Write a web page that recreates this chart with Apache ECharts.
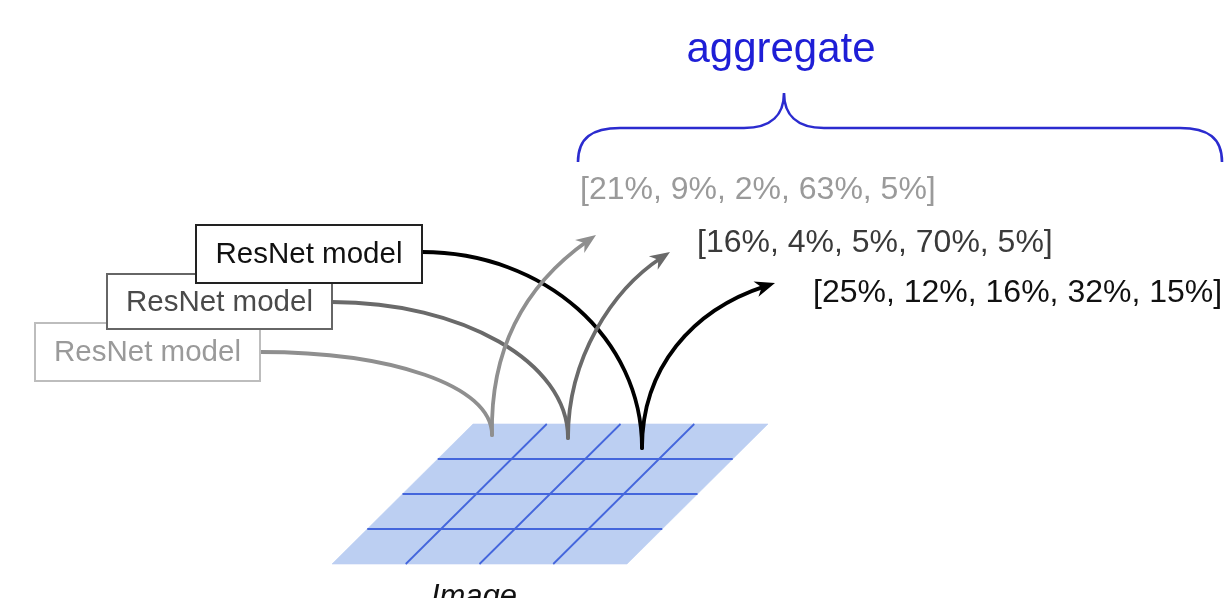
<!DOCTYPE html>
<html><head><meta charset="utf-8">
<script src="https://cdn.jsdelivr.net/npm/echarts@6/dist/echarts.min.js"></script>
<style>html,body{margin:0;padding:0;background:#fff}#c{width:1224px;height:598px}</style>
</head><body><div id="c"></div>
<script>
// ---- data (diagram units = a hidden 0..1224 x 0..598 value space) ----
const modelNames = ['ResNet model', 'ResNet model', 'ResNet model'];
const modelBoxes = [[35, 323, 260, 381], [107, 274, 332, 329], [196, 225, 422, 283]];
const outputLabels = ['[21%, 9%, 2%, 63%, 5%]', '[16%, 4%, 5%, 70%, 5%]', '[25%, 12%, 16%, 32%, 15%]'];
const outputAnchors = [[580, 190], [697, 243], [813, 293]];
// curves from each model box down to the image patch: [start, cp1, cp2, end]
const inCurves = [
  [[260, 352], [390, 352], [492, 385], [492, 435]],
  [[332, 302], [462, 302], [568, 362], [568, 438]],
  [[422, 252], [544, 252], [642, 338], [642, 448]]
];
// arrows from the patch up to each prediction: [start, cp1, cp2, tip]
const outCurves = [
  [[492, 435], [490, 340], [532, 280], [596, 235]],
  [[568, 438], [568, 358], [612, 290], [670, 252]],
  [[642, 448], [642, 368], [692, 310], [775, 283]]
];
const imageCorners = [[473, 424], [768, 424], [332, 564]]; // top-left, top-right, bottom-left
const imageRows = 4, imageCols = 4;
const imageLabel = 'Image';
const imageLabelPos = [474, 597];
const braceTitle = 'aggregate';
const braceTitlePos = [781, 50];
const braceEnds = [[578, 162], [1222, 162]];
const braceLevel = 128, bracePeak = [784, 93];

// ---- styles ----
const modelText = ['#9a9a9a', '#4a4a4a', '#111111'];
const modelStroke = ['#bdbdbd', '#666666', '#222222'];
const curveColor = ['#8f8f8f', '#6a6a6a', '#000000'];
const outputColor = ['#9a9a9a', '#3a3a3a', '#111111'];
const FONT = 'Liberation Sans, Arial, Helvetica, sans-serif';

const chart = echarts.init(document.getElementById('c'));

function gridPt(api, u, v) {
  const [tl, tr, bl] = imageCorners;
  return api.coord([tl[0] + u * (tr[0] - tl[0]) + v * (bl[0] - tl[0]),
                    tl[1] + u * (tr[1] - tl[1]) + v * (bl[1] - tl[1])]);
}

const cells = [];
for (let r = 0; r < imageRows; r++) for (let c = 0; c < imageCols; c++) cells.push([c, r]);

function bez(api, pts, color, w) {
  const p = pts.map(q => api.coord(q));
  return {type: 'bezierCurve', shape: {x1: p[0][0], y1: p[0][1], cpx1: p[1][0], cpy1: p[1][1], cpx2: p[2][0], cpy2: p[2][1], x2: p[3][0], y2: p[3][1]},
    style: {stroke: color, lineWidth: w, fill: null, lineCap: 'round'}};
}

const option = {
  animation: false,
  grid: {left: 0, right: 0, top: 0, bottom: 0},
  xAxis: {type: 'value', min: 0, max: 1224, show: false},
  yAxis: {type: 'value', min: 0, max: 598, inverse: true, show: false},
  series: [
    { // image patch cells
      type: 'custom', coordinateSystem: 'cartesian2d', z: 1,
      data: cells,
      renderItem: function (params, api) {
        const c = api.value(0), r = api.value(1);
        const du = 1 / imageCols, dv = 1 / imageRows;
        const a = gridPt(api, c * du, r * dv), b = gridPt(api, (c + 1) * du, r * dv),
              d = gridPt(api, (c + 1) * du, (r + 1) * dv), e = gridPt(api, c * du, (r + 1) * dv);
        return {type: 'polygon', shape: {points: [a, b, d, e]}, style: {fill: '#bccff2', stroke: '#bccff2', lineWidth: 0.6}};
      }
    },
    { // internal grid lines
      type: 'custom', coordinateSystem: 'cartesian2d', z: 2,
      data: [[1, 0], [2, 0], [3, 0], [1, 1], [2, 1], [3, 1]],
      renderItem: function (params, api) {
        const k = api.value(0), horiz = api.value(1) === 1;
        let p, q;
        if (horiz) { p = gridPt(api, 0, k / imageRows); q = gridPt(api, 1, k / imageRows); }
        else { p = gridPt(api, k / imageCols, 0); q = gridPt(api, k / imageCols, 1); }
        return {type: 'line', shape: {x1: p[0], y1: p[1], x2: q[0], y2: q[1]}, style: {stroke: '#4466dc', lineWidth: 1.8}};
      }
    },
    { // curves from models to patch
      type: 'custom', coordinateSystem: 'cartesian2d', z: 3,
      data: inCurves.map((c, i) => [i]),
      renderItem: function (params, api) {
        const i = params.dataIndex;
        return bez(api, inCurves[i], curveColor[i], 3.8);
      }
    },
    { // arrows up to predictions
      type: 'custom', coordinateSystem: 'cartesian2d', z: 4,
      data: outCurves.map((c, i) => [i]),
      renderItem: function (params, api) {
        const i = params.dataIndex;
        const pts = outCurves[i];
        const tip = api.coord(pts[3]), cp = api.coord(pts[2]);
        let dx = tip[0] - cp[0], dy = tip[1] - cp[1];
        const L = Math.hypot(dx, dy); dx /= L; dy /= L;
        const len = 20, half = 8;
        const base = [tip[0] - dx * len, tip[1] - dy * len];
        const nx = -dy, ny = dx;
        const head = {type: 'polygon', shape: {points: [tip, [base[0] + nx * half, base[1] + ny * half], [tip[0] - dx * len * 0.7, tip[1] - dy * len * 0.7], [base[0] - nx * half, base[1] - ny * half]]},
          style: {fill: curveColor[i]}};
        const line = bez(api, [pts[0], pts[1], pts[2], [pts[3][0] - dx * 10, pts[3][1] + dy * -10]], curveColor[i], 3.8);
        return {type: 'group', children: [line, head]};
      }
    },
    { // model boxes
      type: 'custom', coordinateSystem: 'cartesian2d', z: 5,
      data: modelBoxes.map((b, i) => [i]),
      renderItem: function (params, api) {
        const i = params.dataIndex, b = modelBoxes[i];
        const p0 = api.coord([b[0], b[1]]), p1 = api.coord([b[2], b[3]]);
        return {type: 'group', children: [
          {type: 'rect', shape: {x: p0[0], y: p0[1], width: p1[0] - p0[0], height: p1[1] - p0[1]},
            style: {fill: '#ffffff', stroke: modelStroke[i], lineWidth: 2}},
          {type: 'text', style: {text: modelNames[i], x: (p0[0] + p1[0]) / 2, y: (p0[1] + p1[1]) / 2 + 1,
            align: 'center', verticalAlign: 'middle', fontSize: 29.5, fontFamily: FONT, fill: modelText[i]}}
        ]};
      }
    },
    { // prediction labels
      type: 'custom', coordinateSystem: 'cartesian2d', z: 6,
      data: outputLabels.map((t, i) => [i]),
      renderItem: function (params, api) {
        const i = params.dataIndex, p = api.coord(outputAnchors[i]);
        return {type: 'text', style: {text: outputLabels[i], x: p[0], y: p[1], align: 'left', verticalAlign: 'middle',
          fontSize: 32, fontFamily: FONT, fill: outputColor[i]}};
      }
    },
    { // brace + title + image label
      type: 'custom', coordinateSystem: 'cartesian2d', z: 6,
      data: [[0]],
      renderItem: function (params, api) {
        const c = q => api.coord(q).map(v => v.toFixed(1)).join(' ');
        const [L, R] = braceEnds, y = braceLevel, [px, py] = bracePeak;
        const d = 'M' + c(L) +
          ' C' + c([L[0], y + 10]) + ' ' + c([L[0] + 14, y]) + ' ' + c([L[0] + 42, y]) +
          ' L' + c([px - 40, y]) +
          ' C' + c([px - 12, y]) + ' ' + c([px, y - 14]) + ' ' + c([px, py]) +
          ' C' + c([px, y - 14]) + ' ' + c([px + 12, y]) + ' ' + c([px + 40, y]) +
          ' L' + c([R[0] - 42, y]) +
          ' C' + c([R[0] - 14, y]) + ' ' + c([R[0], y + 10]) + ' ' + c(R);
        const t = api.coord(braceTitlePos);
        const im = api.coord(imageLabelPos);
        return {type: 'group', children: [
          {type: 'path', shape: {pathData: d}, style: {stroke: '#2b2bcf', lineWidth: 2.6, fill: null}},
          {type: 'text', style: {text: braceTitle, x: t[0], y: t[1], align: 'center', verticalAlign: 'middle',
            fontSize: 42, fontFamily: FONT, fill: '#1e1ed6'}},
          {type: 'text', style: {text: imageLabel, x: im[0], y: im[1], align: 'center', verticalAlign: 'middle',
            fontSize: 31, fontStyle: 'italic', fontFamily: FONT, fill: '#111'}}
        ]};
      }
    }
  ]
};
chart.setOption(option);
</script>
</body></html>
